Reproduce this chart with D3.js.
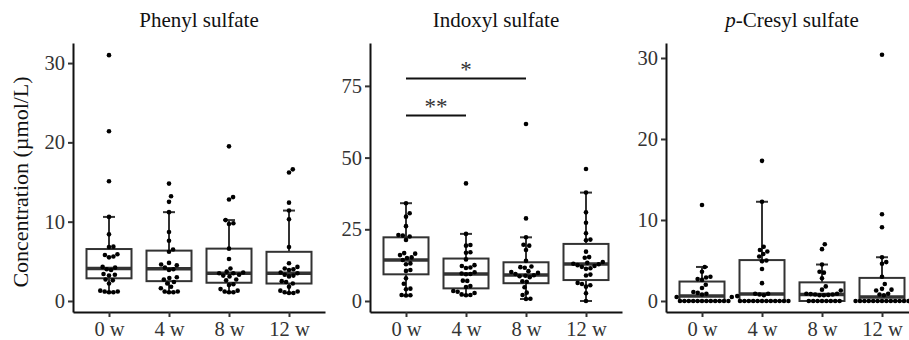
<!DOCTYPE html>
<html>
<head>
<meta charset="utf-8">
<script src="https://cdn.jsdelivr.net/npm/d3@7"></script>
<style>
    body { margin: 0; background: #fff; }
    svg { display: block; font-family: "Liberation Serif", "Times New Roman", serif; }
</style>
</head>
<body>
<div id="chart"></div>
<script>
// groups on the x axis
var groups = ["0 w", "4 w", "8 w", "12 w"];

// panel titles
var titles = ["Phenyl sulfate", "Indoxyl sulfate", "-Cresyl sulfate"];

// y tick values per panel
var phenylTicks = [0, 10, 20, 30];
var indoxylTicks = [0, 25, 50, 75];
var cresylTicks = [0, 10, 20, 30];

// individual concentrations (umol/L), one array per week
var phenylValues = [
    [31.0, 21.4, 15.1, 10.6, 8.4, 6.85, 6.8, 5.9, 5.8, 5.6, 5.5, 4.3, 4.2, 4.0, 3.9, 3.4, 3.3, 3.2, 2.7, 2.6, 2.2, 1.3, 1.2, 1.2, 1.1, 1.1],
    [14.8, 13.2, 12.5, 11.2, 8.7, 7.6, 6.5, 6.2, 4.8, 4.6, 4.5, 4.2, 4.0, 3.9, 3.0, 2.9, 2.7, 2.4, 2.2, 1.8, 1.6, 1.2, 1.1, 1.1, 1.2],
    [19.5, 13.1, 12.8, 10.2, 9.8, 9.7, 6.6, 5.3, 4.1, 3.7, 3.6, 3.5, 3.5, 3.3, 3.2, 3.1, 2.7, 2.6, 2.1, 2.0, 1.5, 1.3, 1.2, 1.1, 1.1],
    [16.6, 16.2, 12.4, 11.4, 10.3, 6.8, 4.75, 4.3, 4.1, 4.0, 3.9, 3.6, 3.5, 3.3, 3.2, 3.1, 2.5, 2.4, 2.2, 1.8, 1.3, 1.2, 1.1, 1.0, 1.0]
];
var indoxylValues = [
    [34.1, 30.6, 29.4, 26.1, 23.0, 22.8, 22.5, 21.3, 16.7, 16.5, 16.0, 15.2, 15.0, 14.3, 13.1, 12.8, 10.8, 10.5, 7.9, 6.0, 4.3, 4.1, 2.1, 2.0, 1.9],
    [41.0, 23.4, 19.5, 19.3, 17.0, 16.8, 14.5, 12.5, 12.2, 11.7, 11.5, 10.0, 9.6, 9.4, 9.3, 7.1, 7.0, 5.2, 4.9, 3.5, 3.2, 2.8, 2.3, 2.1, 2.0],
    [61.7, 28.8, 22.2, 19.6, 19.3, 17.8, 14.0, 12.0, 11.8, 11.6, 10.4, 10.1, 9.8, 9.4, 9.0, 8.8, 8.6, 8.3, 6.9, 6.7, 4.8, 2.9, 2.1, 0.8, 0.7],
    [46.0, 37.8, 30.9, 27.3, 23.6, 21.4, 21.2, 17.2, 15.3, 15.1, 13.6, 13.3, 13.0, 12.8, 12.5, 12.2, 11.9, 11.4, 11.2, 9.2, 8.9, 6.3, 5.9, 5.5, 5.0, 2.7, 0.0]
];
var cresylValues = [
    [11.85, 4.2, 3.6, 3.0, 2.9, 2.7, 2.6, 2.0, 1.6, 1.1, 1.0, 0.9, 0.8, 0.5, 0.5, 0, 0, 0, 0, 0, 0, 0, 0, 0, 0, 0, 0],
    [17.3, 12.25, 6.7, 6.3, 6.1, 5.8, 5.5, 5.0, 4.9, 3.95, 2.2, 0.9, 0.9, 0.8, 0.7, 0.6, 0, 0, 0, 0, 0, 0, 0, 0, 0, 0, 0, 0],
    [7.0, 6.4, 4.5, 3.6, 3.5, 2.8, 1.8, 1.4, 1.3, 0.9, 0.9, 0.85, 0.8, 0.8, 0.75, 0.7, 0.7, 0, 0, 0, 0, 0, 0, 0, 0],
    [30.4, 10.7, 9.1, 5.4, 4.8, 4.6, 3.0, 2.1, 1.5, 1.4, 1.3, 0.9, 0.8, 0.7, 0, 0, 0, 0, 0, 0, 0, 0, 0, 0, 0, 0, 0]
];

// box statistics: [lower whisker, q1, median, q3, upper whisker]
var phenylStats = [[1.1, 2.86, 4.1, 6.55, 10.6], [1.1, 2.5, 4.07, 6.35, 11.2], [1.1, 2.3, 3.5, 6.6, 10.2], [1.0, 2.2, 3.5, 6.2, 11.4]];
var indoxylStats = [[1.9, 9.3, 14.3, 22.2, 34.1], [2.0, 4.4, 9.4, 14.8, 23.4], [0.7, 6.2, 9.1, 13.5, 22.2], [0, 7.3, 12.9, 19.9, 37.8]];
var cresylStats = [[0, 0, 0.6, 2.4, 4.2], [0, 0, 0.85, 5.05, 12.25], [0, 0, 0.8, 2.3, 4.5], [0, 0, 0.5, 2.85, 5.4]];

// significance brackets (indoxyl sulfate panel)
var sigFrom = ["0 w", "0 w"];
var sigTo = ["4 w", "8 w"];
var sigLevel = [64.7, 77.6];
var sigLabel = ["**", "*"];

var width = 909, height = 340;
var plotTop = 43, plotBottom = 312, panelW = 252;

var panels = [
    {left: 73, domain: [-1.39, 32.53], ticks: phenylTicks, values: phenylValues, stats: phenylStats, title: titles[0]},
    {left: 370, domain: [-3.84, 89.96], ticks: indoxylTicks, values: indoxylValues, stats: indoxylStats, title: titles[1], sig: true},
    {left: 666, domain: [-1.36, 31.85], ticks: cresylTicks, values: cresylValues, stats: cresylStats, title: titles[2], italicP: true}
];

var svg = d3.select('#chart')
    .append('svg')
    .attr('width', width)
    .attr('height', height);

// simple beeswarm: place each point as close to the centre as it can go
function swarm(vals, y, d, k) {
    var placed = [];
    var pts = vals.map(function (v) { return {v: v, y: y(v)}; })
        .sort(function (a, b) { return a.v - b.v; });
    pts.forEach(function (p) {
        var cands = [0];
        placed.forEach(function (q) {
            var dy = (p.y - q.y) * k;
            if (Math.abs(dy) < d) {
                var dx = Math.sqrt(d * d - dy * dy);
                cands.push(q.x + dx, q.x - dx);
            }
        });
        cands.sort(function (a, b) { return Math.abs(a) - Math.abs(b); });
        for (var i = 0; i < cands.length; i++) {
            var c = cands[i];
            var ok = placed.every(function (q) {
                var dy = (p.y - q.y) * k, dx = c - q.x;
                return dx * dx + dy * dy >= d * d - 0.01;
            });
            if (ok) { p.x = c; break; }
        }
        placed.push(p);
    });
    return placed;
}

panels.forEach(function (p) {
    var x = d3.scalePoint()
        .domain(groups)
        .range([p.left, p.left + panelW])
        .padding(0.6);
    var y = d3.scaleLinear()
        .domain(p.domain)
        .range([plotBottom, plotTop]);

    var g = svg.append('g');

    // axes
    var yAxis = g.append('g')
        .attr('transform', 'translate(' + p.left + ',0)')
        .call(d3.axisLeft(y).tickValues(p.ticks).tickSize(5).tickSizeOuter(0).tickPadding(3));
    var xAxis = g.append('g')
        .attr('transform', 'translate(0,' + plotBottom + ')')
        .call(d3.axisBottom(x).tickSize(5).tickSizeOuter(0).tickPadding(4));

    [yAxis, xAxis].forEach(function (a) {
        a.attr('font-family', null).attr('font-size', null);
        a.select('.domain').attr('stroke', '#111').attr('stroke-width', 2);
        a.selectAll('.tick line').attr('stroke', '#333').attr('stroke-width', 2);
        a.selectAll('.tick text').attr('fill', '#333').style('font-size', '20.5px');
    });

    // title
    var t = g.append('text')
        .attr('x', p.left + panelW / 2)
        .attr('y', 27)
        .attr('text-anchor', 'middle')
        .style('font-size', '21px')
        .attr('fill', '#111');
    if (p.italicP) {
        t.append('tspan').style('font-style', 'italic').text('p');
    }
    t.append('tspan').text(p.title);

    // boxes with error-bar whiskers
    var bw = 45, cw = 12;
    groups.forEach(function (grp, i) {
        var s = p.stats[i], cx = x(grp);
        var gb = g.append('g').attr('stroke', '#333').attr('stroke-width', 2).attr('fill', 'none');
        gb.append('line').attr('x1', cx).attr('x2', cx).attr('y1', y(s[3])).attr('y2', y(s[4]));
        gb.append('line').attr('x1', cx).attr('x2', cx).attr('y1', y(s[1])).attr('y2', y(s[0]));
        gb.append('line').attr('x1', cx - cw / 2).attr('x2', cx + cw / 2).attr('y1', y(s[4])).attr('y2', y(s[4]));
        gb.append('line').attr('x1', cx - cw / 2).attr('x2', cx + cw / 2).attr('y1', y(s[0])).attr('y2', y(s[0]));
        gb.append('rect')
            .attr('x', cx - bw / 2)
            .attr('width', bw)
            .attr('y', y(s[3]))
            .attr('height', Math.max(0, y(s[1]) - y(s[3])))
            .attr('fill', '#fff');
        gb.append('line')
            .attr('x1', cx - bw / 2).attr('x2', cx + bw / 2)
            .attr('y1', y(s[2])).attr('y2', y(s[2]))
            .attr('stroke-width', 3.5);

        // points
        var pts = swarm(p.values[i], y, 4.4, 0.7);
        g.append('g').selectAll('circle')
            .data(pts)
            .enter()
            .append('circle')
            .attr('cx', function (d) { return cx + d.x; })
            .attr('cy', function (d) { return d.y; })
            .attr('r', 2.3)
            .attr('fill', '#000');
    });

    // significance lines
    if (p.sig) {
        sigLabel.forEach(function (lab, i) {
            var x1 = x(sigFrom[i]), x2 = x(sigTo[i]), yy = y(sigLevel[i]);
            g.append('line')
                .attr('x1', x1).attr('x2', x2)
                .attr('y1', yy).attr('y2', yy)
                .attr('stroke', '#111').attr('stroke-width', 2);
            g.append('text')
                .attr('x', (x1 + x2) / 2)
                .attr('y', yy - 1)
                .attr('text-anchor', 'middle')
                .style('font-size', '23px')
                .attr('fill', '#333')
                .text(lab);
        });
    }
});

// y axis title
svg.append('text')
    .attr('transform', 'translate(28,' + 182 + ') rotate(-90)')
    .attr('text-anchor', 'middle')
    .style('font-size', '22px')
    .attr('fill', '#111')
    .text('Concentration (\u00b5mol/L)');
</script>
</body>
</html>
